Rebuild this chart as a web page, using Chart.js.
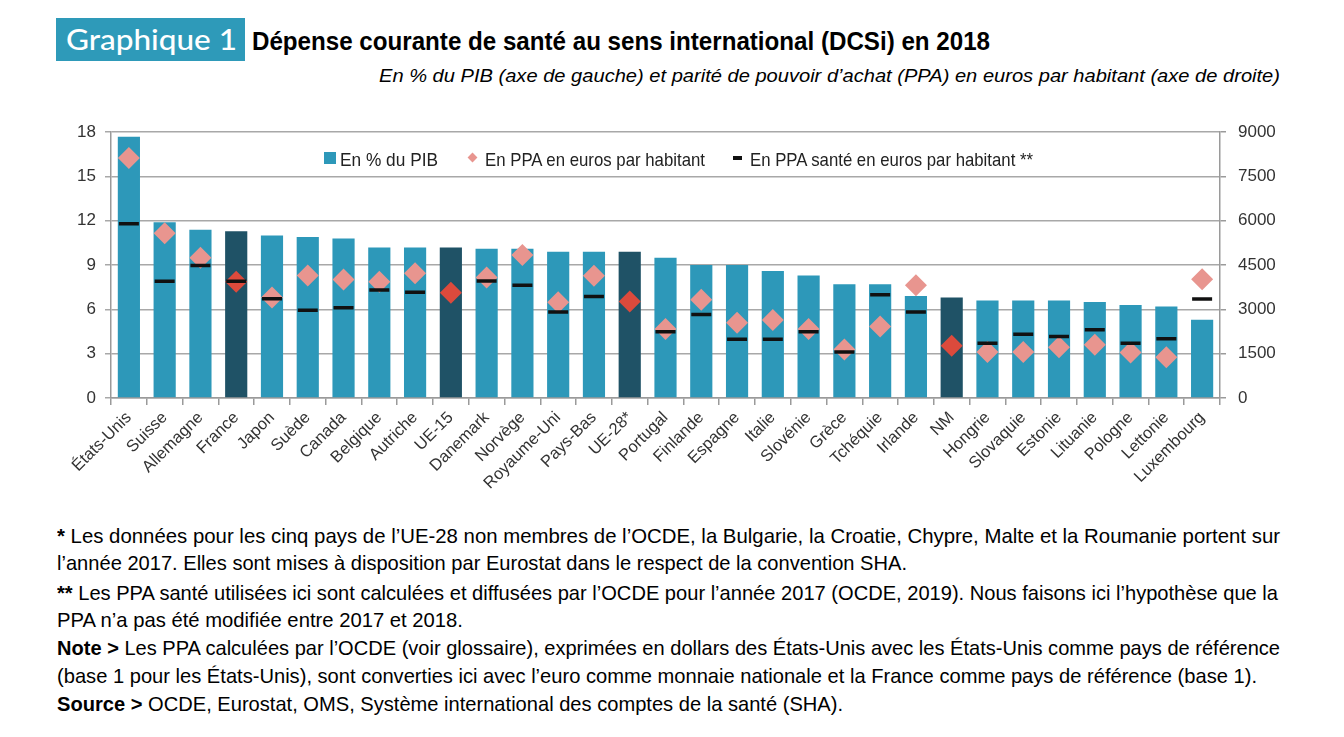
<!DOCTYPE html>
<html><head><meta charset="utf-8">
<script src="https://cdn.jsdelivr.net/npm/chart.js@4.4.1/dist/chart.umd.min.js"></script>
<style>
html,body{margin:0;padding:0;background:#fff;}
body{width:1344px;height:737px;position:relative;overflow:hidden;font-family:'Liberation Sans',Arial,sans-serif;color:#000;}
.fit{position:absolute;white-space:nowrap;transform-origin:0 0;line-height:1;display:inline-block;}
#badge{position:absolute;left:56px;top:18px;width:189px;height:43px;background:#2e9ab9;}
#wrap{position:absolute;left:0;top:110px;width:1344px;height:410px;}
.lg-sq{position:absolute;left:324px;top:152px;width:12px;height:12px;background:#2d98b9;}
.lg-di{position:absolute;left:469px;top:154px;width:7px;height:7px;background:#e8958f;transform:rotate(45deg);}
.lg-da{position:absolute;left:733px;top:156px;width:9px;height:3.5px;background:#111;}
.note{font-size:21px;color:#000;}
.lgt{font-size:19px;color:#222;}
</style></head>
<body>
<div id="badge"></div>
<span class="fit" data-w="171" style="left:66px;top:25px;font-family:Lato,'Open Sans',sans-serif;font-size:28px;color:#fff;font-weight:500;">Graphique 1</span>
<span class="fit" data-w="738" style="left:252px;top:29px;font-size:25px;font-weight:bold;">Dépense courante de santé au sens international (DCSi) en 2018</span>
<span class="fit" data-w="901" style="left:379px;top:66px;font-size:19px;font-style:italic;">En % du PIB (axe de gauche) et parité de pouvoir d’achat (PPA) en euros par habitant (axe de droite)</span>

<div id="wrap"><canvas id="c" width="1344" height="410" style="width:1344px;height:410px"></canvas></div>

<div class="lg-sq"></div>
<span class="fit lgt" data-w="98" style="left:340px;top:150px;">En % du PIB</span>
<div class="lg-di"></div>
<span class="fit lgt" data-w="220" style="left:485px;top:150px;">En PPA en euros par habitant</span>
<div class="lg-da"></div>
<span class="fit lgt" data-w="283" style="left:750px;top:150px;">En PPA santé en euros par habitant **</span>

<span class="fit note" data-w="1223" style="left:57px;top:525px;"><b>*</b> Les données pour les cinq pays de l’UE-28 non membres de l’OCDE, la Bulgarie, la Croatie, Chypre, Malte et la Roumanie portent sur</span>
<span class="fit note" data-w="850" style="left:57px;top:552px;">l’année 2017. Elles sont mises à disposition par Eurostat dans le respect de la convention SHA.</span>
<span class="fit note" data-w="1221" style="left:57px;top:582px;"><b>**</b> Les PPA santé utilisées ici sont calculées et diffusées par l’OCDE pour l’année 2017 (OCDE, 2019). Nous faisons ici l’hypothèse que la</span>
<span class="fit note" data-w="406" style="left:57px;top:609px;">PPA n’a pas été modifiée entre 2017 et 2018.</span>
<span class="fit note" data-w="1223" style="left:57px;top:637px;"><b>Note &gt;</b> Les PPA calculées par l’OCDE (voir glossaire), exprimées en dollars des États-Unis avec les États-Unis comme pays de référence</span>
<span class="fit note" data-w="1200" style="left:57px;top:665px;">(base 1 pour les États-Unis), sont converties ici avec l’euro comme monnaie nationale et la France comme pays de référence (base 1).</span>
<span class="fit note" data-w="786" style="left:57px;top:693px;"><b>Source &gt;</b> OCDE, Eurostat, OMS, Système international des comptes de la santé (SHA).</span>

<script>
const categories = ['États-Unis','Suisse','Allemagne','France','Japon','Suède','Canada','Belgique','Autriche','UE-15','Danemark','Norvège','Royaume-Uni','Pays-Bas','UE-28*','Portugal','Finlande','Espagne','Italie','Slovénie','Grèce','Tchéquie','Irlande','NM','Hongrie','Slovaquie','Estonie','Lituanie','Pologne','Lettonie','Luxembourg'];
const pibPct = [17.7, 11.9, 11.4, 11.3, 11.0, 10.9, 10.8, 10.2, 10.2, 10.2, 10.1, 10.1, 9.9, 9.9, 9.9, 9.5, 9.0, 9.0, 8.6, 8.3, 7.7, 7.7, 6.9, 6.8, 6.6, 6.6, 6.6, 6.5, 6.3, 6.2, 5.3];
const ppaEuros = [8130, 5580, 4750, 3940, 3400, 4150, 4010, 3940, 4220, 3560, 4080, 4840, 3240, 4140, 3270, 2340, 3330, 2550, 2640, 2340, 1640, 2420, 3820, 1770, 1560, 1560, 1720, 1800, 1540, 1380, 4020];
const ppaSante = [5900, 3950, 4490, 3950, 3360, 2970, 3060, 3660, 3580, null, 3960, 3820, 2910, 3440, null, 2240, 2830, 1990, 1990, 2240, 1560, 3500, 2910, null, 1850, 2160, 2080, 2310, 1850, 2010, 3350];
const highlighted = ['France','UE-15','UE-28*','NM'];
const leftTicks = [0, 3, 6, 9, 12, 15, 18];
const rightTicks = [0, 1500, 3000, 4500, 6000, 7500, 9000];

const TEAL = '#2d98b9', DARK = '#1f5266', PINK = '#e8958f', RED = '#dc4a3c';

function hasFont(name){
  const c = document.createElement('canvas').getContext('2d');
  const s = 'abcdefghijklmnopqrstuvwxyz0123456789';
  c.font = '40px monospace'; const a = c.measureText(s).width;
  c.font = '40px "' + name + '", monospace'; const b = c.measureText(s).width;
  return Math.abs(a - b) > 0.5;
}
const narrow = hasFont('Liberation Sans Narrow');
const tickFont = narrow ? {family:'Liberation Sans Narrow', size:20} : {family:'Liberation Sans', size:17};
const xFont = narrow ? {family:'Liberation Sans Narrow', size:19} : {family:'Liberation Sans', size:16.5};

new Chart(document.getElementById('c'), {
  type: 'bar',
  data: {
    labels: categories,
    datasets: [
      {type:'bar', label:'En % du PIB', data: pibPct,
       backgroundColor: categories.map(c => highlighted.includes(c) ? DARK : TEAL),
       barPercentage: 0.62, categoryPercentage: 1, yAxisID: 'y', order: 3},
      {type:'line', label:'En PPA en euros par habitant', data: ppaEuros, showLine:false,
       pointStyle:'rectRot', pointRadius:11, pointHoverRadius:11, pointBorderWidth:0,
       pointBackgroundColor: categories.map(c => highlighted.includes(c) ? RED : PINK),
       pointBorderColor: categories.map(c => highlighted.includes(c) ? RED : PINK),
       backgroundColor: PINK, borderColor: PINK, yAxisID:'y2', order: 2},
      {type:'line', label:'En PPA santé en euros par habitant **', data: ppaSante, showLine:false,
       pointStyle:'line', pointRadius:10, pointHoverRadius:10, pointBorderWidth:3.5,
       pointBorderColor:'#111', borderColor:'#111', backgroundColor:'#111', yAxisID:'y2', order: 1}
    ]
  },
  options: {
    responsive: false, animation: false, devicePixelRatio: 1,
    layout: {padding: {left: 56, right: 60, top: 20, bottom: 0}},
    plugins: {legend: {display: false}, tooltip: {enabled: false}},
    scales: {
      x: {
        grid: {display: true, drawOnChartArea: false, drawTicks: true, tickLength: 7, color: '#9a9a9a', lineWidth: 1.5, offset: true},
        border: {color: '#9a9a9a', width: 1.5},
        ticks: {autoSkip: false, maxRotation: 45, minRotation: 45, padding: 3, color: '#333', font: xFont},
        afterFit(s){ s.height = 122; }
      },
      y: {
        position: 'left', min: 0, max: 18,
        afterBuildTicks(s){ s.ticks = leftTicks.map(v => ({value: v})); },
        grid: {color: '#a8a8a8', lineWidth: 1.5, drawTicks: true, tickLength: 6},
        border: {color: '#9a9a9a', width: 1.5},
        ticks: {padding: 9, color: '#333', font: tickFont, callback: v => String(v)},
        afterFit(s){ s.width = 55; }
      },
      y2: {
        position: 'right', min: 0, max: 9000,
        afterBuildTicks(s){ s.ticks = rightTicks.map(v => ({value: v})); },
        grid: {drawOnChartArea: false, drawTicks: true, tickLength: 6, color: '#9a9a9a', lineWidth: 1.5},
        border: {color: '#9a9a9a', width: 1.5},
        ticks: {padding: 12, color: '#333', font: tickFont, callback: v => String(v)},
        afterFit(s){ s.width = 64; }
      }
    }
  }
});

function fitAll(){
  document.querySelectorAll('.fit').forEach(el => {
    el.style.transform = 'none';
    const w = +el.dataset.w;
    const n = el.getBoundingClientRect().width;
    if (n > 0) el.style.transform = 'scaleX(' + (w / n) + ')';
  });
}
fitAll();
if (document.fonts && document.fonts.ready) document.fonts.ready.then(fitAll);
</script>
</body></html>
